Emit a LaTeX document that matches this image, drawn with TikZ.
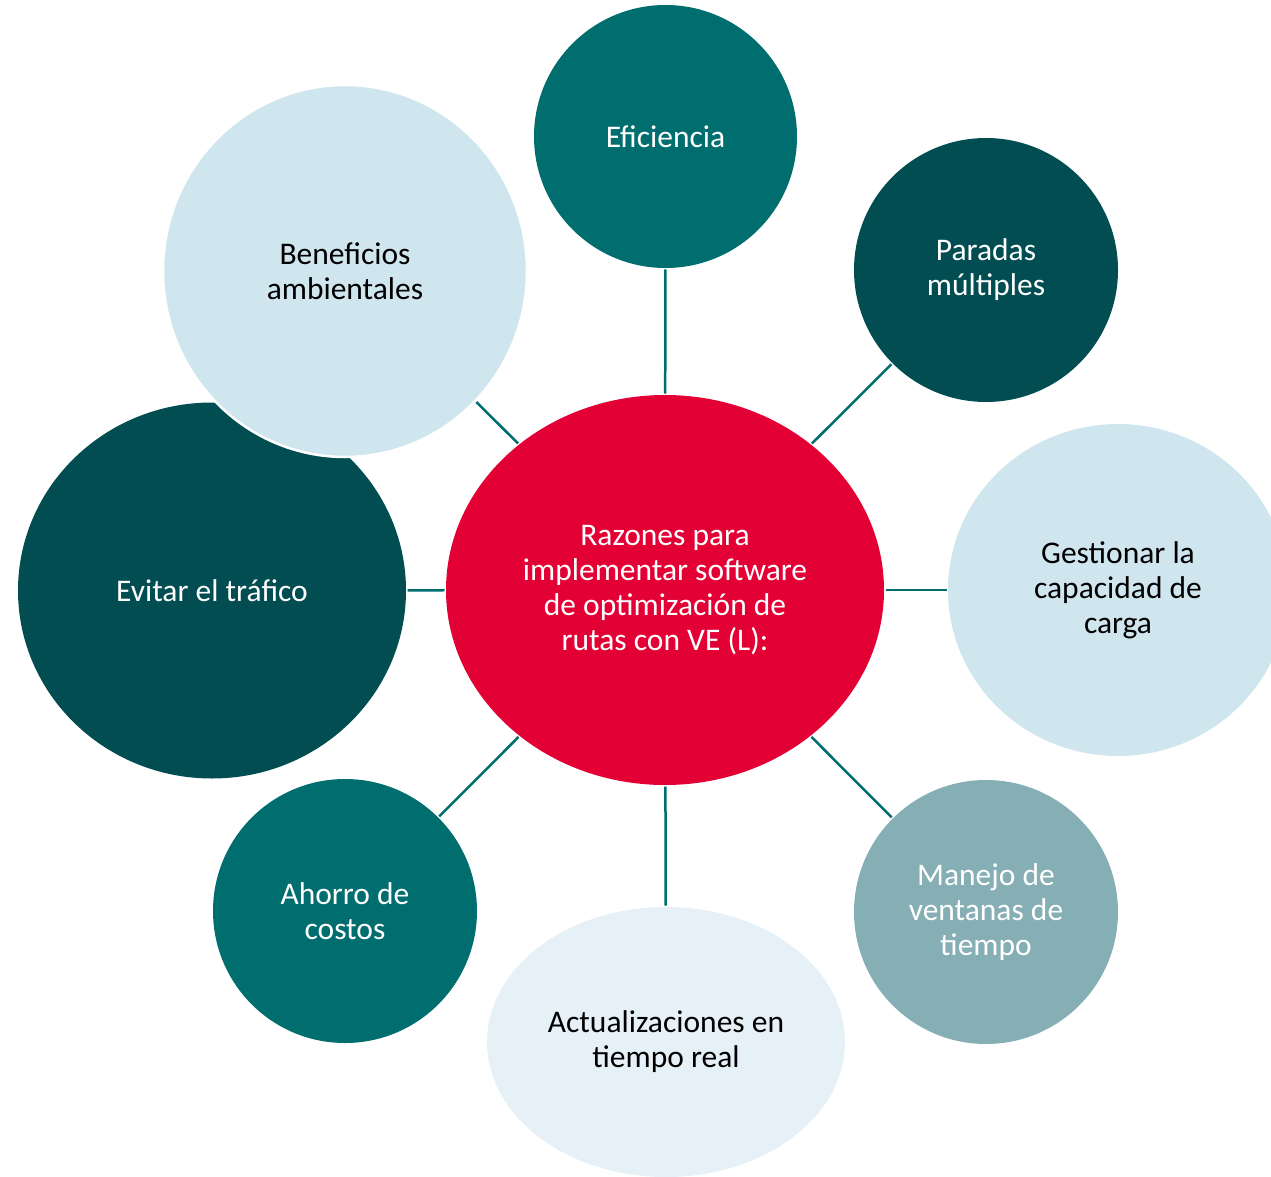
\documentclass[tikz,border=0pt]{standalone}
\usepackage{fontspec}
\setmainfont{Carlito}
\usetikzlibrary{shapes.geometric}
\definecolor{tealmid}{HTML}{006D6F}
\definecolor{tealdark}{HTML}{024D51}
\definecolor{tealgrey}{HTML}{85AFB5}
\definecolor{lightblue}{HTML}{D0E6EE}
\definecolor{paleblue}{HTML}{E5F1F6}
\definecolor{centerred}{HTML}{E30034}
\definecolor{linkcol}{HTML}{006D6F}
\begin{document}
\begin{tikzpicture}[x=1pt,y=-1pt,
  bubble/.style={ellipse, inner sep=0pt, outer sep=0pt, align=center,
    font=\fontsize{31.5}{35}\selectfont},
  onlight/.style={text=black},
  ondark/.style={text=white},
  link/.style={draw=linkcol, line width=2.5pt, shorten <=1.5pt, shorten >=1.5pt}]
\useasboundingbox (0,0) rectangle (1271,1177);
\clip (0,0) rectangle (1271,1177);

\node[bubble, ondark, fill=centerred, minimum width=438pt, minimum height=390pt] (c) at (665,590)
  {Razones para\\implementar software\\de optimización de\\rutas con VE (L):};

\node[bubble, ondark, fill=tealmid, minimum width=263pt, minimum height=263pt] (efi) at (665.5,136.5) {Eficiencia};
\node[bubble, ondark, fill=tealdark, minimum width=264pt, minimum height=264pt] (par) at (986,270) {Paradas\\múltiples};
\node[bubble, onlight, fill=lightblue, minimum width=340pt, minimum height=332pt] (ges) at (1118,590) {Gestionar la\\capacidad de\\carga};
\node[bubble, ondark, fill=tealgrey, minimum width=264pt, minimum height=264pt] (man) at (986,912) {Manejo de\\ventanas de\\tiempo};
\node[bubble, onlight, fill=paleblue, minimum width=358pt, minimum height=270pt] (act) at (666,1042) {Actualizaciones en\\tiempo real};
\node[bubble, ondark, fill=tealmid, minimum width=264pt, minimum height=264pt] (aho) at (345,911) {Ahorro de\\costos};
\node[bubble, ondark, fill=tealdark, minimum width=388pt, minimum height=376pt] (evi) at (212,590.5) {Evitar el tráfico};
\node[bubble, onlight, fill=lightblue, draw=white, line width=2.5pt, minimum width=364pt, minimum height=372pt] (ben) at (345,271) {Beneficios\\ambientales};

\draw[link] (c) -- (efi);
\draw[link] (c) -- (par);
\draw[link] (c) -- (ges);
\draw[link] (c) -- (man);
\draw[link] (c) -- (act);
\draw[link] (c) -- (aho);
\draw[link] (c) -- (evi);
\draw[link] (c) -- (ben);
\end{tikzpicture}
\end{document}
